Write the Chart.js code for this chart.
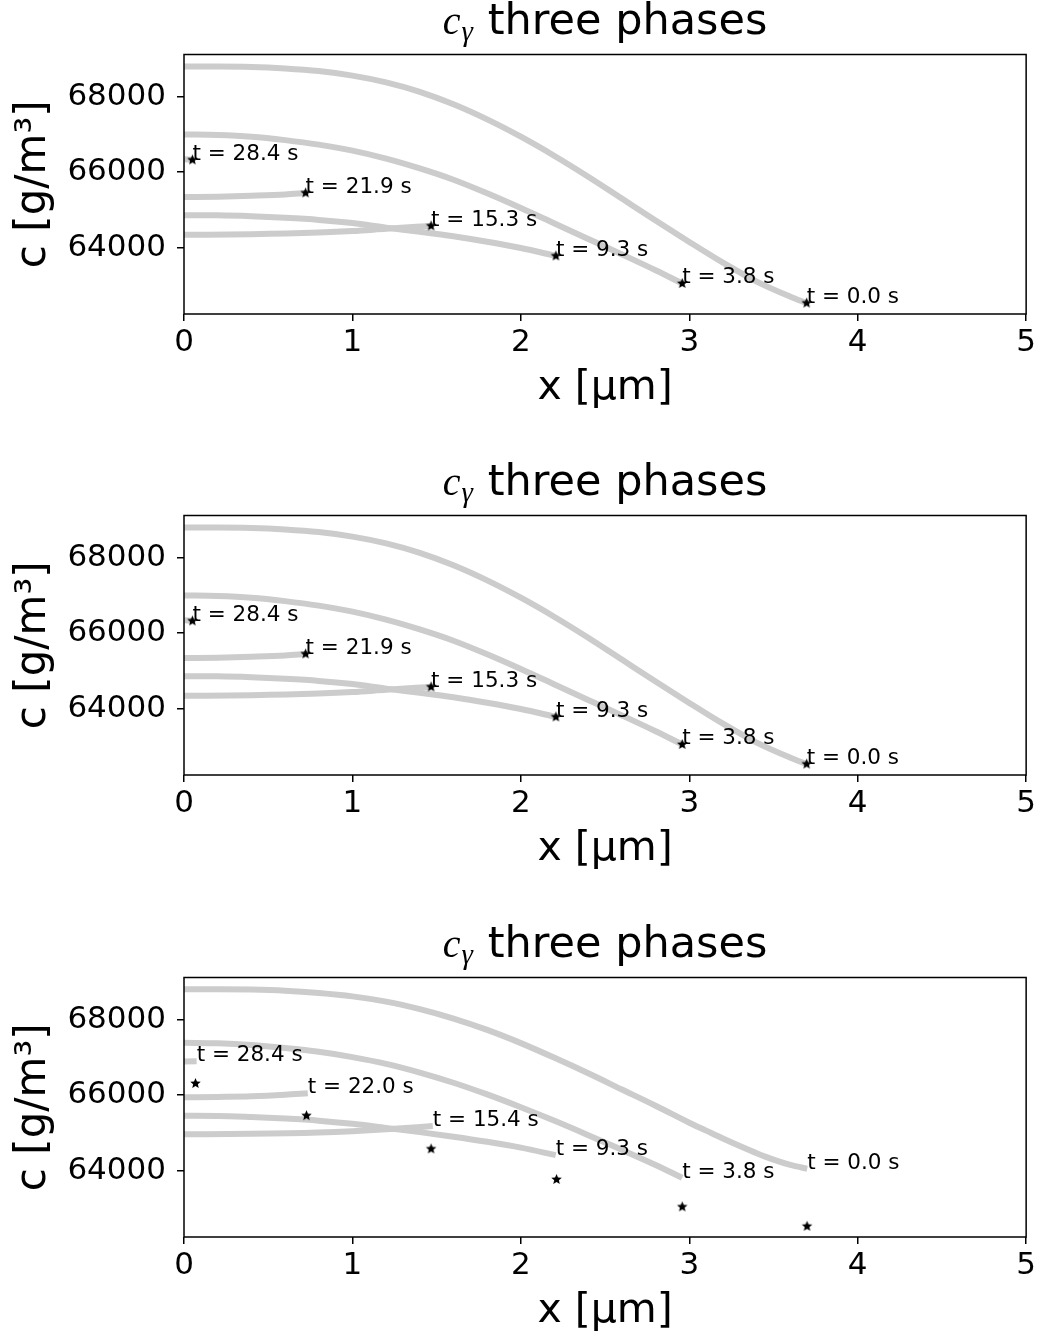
<!DOCTYPE html>
<html>
<head>
<meta charset="utf-8">
<script src="https://cdn.jsdelivr.net/npm/chart.js@4.4.1/dist/chart.umd.min.js"></script>
<style>
  body { margin: 0; background: #fff; }
  #wrap { position: relative; width: 1039px; height: 1336px; }
  canvas { position: absolute; left: 0; }
</style>
</head>
<body>
<div id="wrap">
  <canvas id="c1" width="1039" height="461" style="top:0px"></canvas>
  <canvas id="c2" width="1039" height="462" style="top:461px"></canvas>
  <canvas id="c3" width="1039" height="413" style="top:923px"></canvas>
</div>
<script>
// --- data (x in um, c in g/m3) ---
const yTicks = [64000, 66000, 68000];

// panels 1 and 2 (same data)
const x00 = [0, 0.2, 0.4, 0.6, 0.8, 1.0, 1.2, 1.4, 1.6, 1.8, 2.0, 2.2, 2.4, 2.6, 2.8, 3.0, 3.2, 3.4, 3.6, 3.697];
const c00 = [68800, 68800, 68790, 68750, 68680, 68560, 68380, 68130, 67800, 67400, 66940, 66430, 65880, 65300, 64720, 64150, 63600, 63100, 62700, 62530];
const x38 = [0, 0.2, 0.4, 0.6, 0.8, 1.0, 1.2, 1.4, 1.6, 1.8, 2.0, 2.2, 2.4, 2.6, 2.8, 2.958];
const c38 = [67000, 66985, 66940, 66850, 66730, 66570, 66360, 66100, 65800, 65440, 65050, 64640, 64230, 63820, 63400, 63050];
const x93 = [0, 0.2, 0.4, 0.6, 0.8, 1.0, 1.2, 1.4, 1.6, 1.8, 2.0, 2.208];
const c93 = [64860, 64855, 64830, 64790, 64735, 64650, 64530, 64420, 64300, 64155, 63990, 63780];
const x153 = [0, 0.4, 0.8, 1.0, 1.2, 1.467];
const c153 = [64340, 64355, 64400, 64440, 64500, 64575];
const x219 = [0, 0.2, 0.4, 0.6, 0.722];
const c219 = [65340, 65350, 65375, 65410, 65450];
const x284 = [0, 0.05];
const c284 = [66345, 66325];

const starX = [0.05, 0.722, 1.467, 2.208, 2.958, 3.697];
const starC = [66325, 65450, 64575, 63780, 63050, 62530];
const labels12 = ['t = 28.4 s', 't = 21.9 s', 't = 15.3 s', 't = 9.3 s', 't = 3.8 s', 't = 0.0 s'];

// panel 3
const x3_00 = [0, 0.2, 0.4, 0.6, 0.8, 1.0, 1.2, 1.4, 1.6, 1.8, 2.0, 2.2, 2.4, 2.6, 2.8, 3.0, 3.1, 3.2, 3.3, 3.4, 3.5, 3.6, 3.7];
const c3_00 = [68810, 68810, 68800, 68770, 68710, 68620, 68480, 68280, 68030, 67730, 67380, 66990, 66580, 66150, 65720, 65270, 65060, 64850, 64650, 64460, 64290, 64150, 64050];
const x3_38 = [0, 0.2, 0.4, 0.6, 0.8, 1.0, 1.2, 1.4, 1.6, 1.8, 2.0, 2.2, 2.4, 2.6, 2.8, 2.958];
const c3_38 = [67390, 67375, 67330, 67250, 67150, 67010, 66830, 66600, 66330, 66020, 65680, 65320, 64940, 64550, 64150, 63810];
const x3_93 = [0, 0.2, 0.4, 0.6, 0.8, 1.0, 1.2, 1.4, 1.6, 1.8, 2.0, 2.207];
const c3_93 = [65455, 65450, 65420, 65380, 65325, 65240, 65130, 65020, 64900, 64765, 64610, 64410];
const x3_154 = [0, 0.4, 0.8, 1.0, 1.2, 1.477];
const c3_154 = [64965, 64975, 65010, 65045, 65095, 65180];
const x3_220 = [0, 0.2, 0.4, 0.6, 0.735];
const c3_220 = [65945, 65955, 65970, 66010, 66050];
const x3_284 = [0, 0.075];
const c3_284 = [66895, 66900];

const starX3 = [0.068, 0.727, 1.467, 2.212, 2.958, 3.699];
const starC3 = [66310, 65457, 64575, 63765, 63040, 62525];
const labels3 = ['t = 28.4 s', 't = 22.0 s', 't = 15.4 s', 't = 9.3 s', 't = 3.8 s', 't = 0.0 s'];

Chart.defaults.font.family = '"DejaVu Sans", sans-serif';
Chart.defaults.color = '#000';

function pts(xs, ys) {
  return xs.map((x, i) => ({ x: x, y: ys[i] }));
}

function starImage(r) {
  const c = document.createElement('canvas');
  const s = Math.ceil(r * 2 + 2);
  c.width = c.height = s;
  const g = c.getContext('2d');
  g.translate(s / 2, s / 2);
  g.beginPath();
  for (let i = 0; i < 10; i++) {
    const rr = i % 2 ? r * 0.45 : r;
    const a = -Math.PI / 2 + i * Math.PI / 5;
    g.lineTo(rr * Math.cos(a), rr * Math.sin(a));
  }
  g.closePath();
  g.fillStyle = '#000';
  g.fill();
  return c;
}
const star = starImage(5.5);

// labels next to each curve + frame + title
function extras(texts, tx, ty) {
  return {
    id: 'extras',
    afterDatasetsDraw(chart) {
      const ctx = chart.ctx;
      const xs = chart.scales.x, ys = chart.scales.y;
      ctx.save();
      ctx.font = '21.5px "DejaVu Sans"';
      ctx.fillStyle = '#000';
      ctx.textAlign = 'left';
      ctx.textBaseline = 'alphabetic';
      texts.forEach((t, i) => {
        ctx.fillText(t, xs.getPixelForValue(tx[i]), ys.getPixelForValue(ty[i]));
      });
      ctx.restore();
    },
    afterDraw(chart) {
      const ctx = chart.ctx;
      const a = chart.chartArea;
      ctx.save();
      ctx.strokeStyle = '#000';
      ctx.lineWidth = 1.5;
      ctx.strokeRect(a.left, a.top, a.right - a.left, a.bottom - a.top);

      // title: c_gamma three phases
      const fC = 'italic 40px "Liberation Serif"';
      const fG = 'italic 29px "Liberation Serif"';
      const fT = '43px "DejaVu Sans"';
      const rest = ' three phases';
      ctx.font = fC; const wc = ctx.measureText('c').width;
      ctx.font = fG; const wg = ctx.measureText('γ').width;
      ctx.font = fT; const wt = ctx.measureText(rest).width;
      let x = (a.left + a.right) / 2 - (wc + wg + 2 + wt) / 2;
      const base = 34;
      ctx.fillStyle = '#000';
      ctx.textAlign = 'left';
      ctx.textBaseline = 'alphabetic';
      ctx.font = fC; ctx.fillText('c', x, base); x += wc + 1;
      ctx.font = fG; ctx.fillText('γ', x, base + 7); x += wg + 1;
      ctx.font = fT; ctx.fillText(rest, x, base);
      ctx.restore();
    }
  };
}

function makeChart(id, curves, sx, sy, texts, tx, ty, padBottom) {
  // stars first so they are drawn on top of the grey curves
  const datasets = [{
    data: pts(sx, sy),
    showLine: false,
    pointStyle: star,
    pointRadius: 5.5,
    borderColor: '#000',
    backgroundColor: '#000'
  }];
  curves.forEach(c => datasets.push({
    data: pts(c[0], c[1]),
    borderColor: '#cccccc',
    borderWidth: 6,
    borderCapStyle: 'butt',
    pointRadius: 0,
    cubicInterpolationMode: 'monotone',
    fill: false
  }));
  const tickGrid = { drawOnChartArea: false, drawTicks: true, tickLength: 7, color: '#000', lineWidth: 1.5 };
  new Chart(document.getElementById(id), {
    type: 'line',
    data: { datasets: datasets },
    options: {
      responsive: false,
      animation: false,
      events: [],
      layout: { padding: { left: 0, right: 11, top: 54.5, bottom: padBottom } },
      plugins: { legend: { display: false }, tooltip: { enabled: false } },
      scales: {
        x: {
          type: 'linear', min: 0, max: 5,
          ticks: { stepSize: 1, font: { size: 31 }, color: '#000', padding: 3, maxRotation: 0, callback: v => String(v) },
          grid: tickGrid,
          border: { display: false },
          title: { display: true, text: 'x [μm]', font: { size: 41 }, color: '#000', padding: { top: 0, bottom: 0 } },
          afterFit(s) { s.height = 99; }
        },
        y: {
          type: 'linear', min: 62240, max: 69120,
          afterBuildTicks(s) { s.ticks = yTicks.map(v => ({ value: v })); },
          ticks: { font: { size: 31 }, color: '#000', padding: 11, callback: v => String(v) },
          grid: tickGrid,
          border: { display: false },
          title: { display: true, text: 'c [g/m³]', font: { size: 42 }, color: '#000', padding: { top: 9, bottom: 0 } },
          afterFit(s) { s.width = 184; }
        }
      }
    },
    plugins: [extras(texts, tx, ty)]
  });
}

const curves12 = [[x00, c00], [x38, c38], [x93, c93], [x153, c153], [x219, c219], [x284, c284]];
const curves3 = [[x3_00, c3_00], [x3_38, c3_38], [x3_93, c3_93], [x3_154, c3_154], [x3_220, c3_220], [x3_284, c3_284]];

makeChart('c1', curves12, starX, starC, labels12, starX, starC, 48);
makeChart('c2', curves12, starX, starC, labels12, starX, starC, 49);
// panel 3: labels sit at the end of each curve
const endX3 = curves3.map(c => c[0][c[0].length - 1]).reverse();
const endC3 = curves3.map(c => c[1][c[1].length - 1]).reverse();
makeChart('c3', curves3, starX3, starC3, labels3, endX3, endC3, 0);
</script>
</body>
</html>
